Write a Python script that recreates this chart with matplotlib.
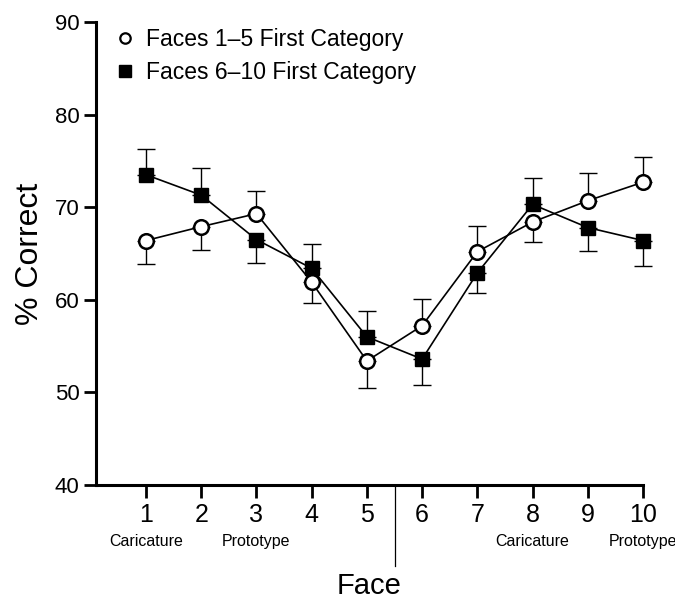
import matplotlib
matplotlib.use("Agg")
import matplotlib.pyplot as plt
from matplotlib.lines import Line2D
import matplotlib.transforms as mtransforms

plt.rcParams['font.family'] = ['Liberation Sans', 'DejaVu Sans']

faces = [1, 2, 3, 4, 5, 6, 7, 8, 9, 10]
tick_labels = ['1', '2', '3', '4', '5', '6', '7', '8', '9', '10']

# Faces 1-5 First Category (open circles)
circ_mean = [66.4, 67.9, 69.3, 61.9, 53.4, 57.2, 65.2, 68.4, 70.7, 72.7]
circ_err_lo = [2.5, 2.5, 0, 2.2, 2.9, 0, 0, 2.2, 0, 0]
circ_err_hi = [0, 0, 2.5, 0, 0, 2.9, 2.8, 0, 3.0, 2.7]

# Faces 6-10 First Category (filled squares)
sq_mean = [73.5, 71.3, 66.5, 63.4, 56.0, 53.6, 62.9, 70.3, 67.8, 66.4]
sq_err_lo = [0, 0, 2.5, 0, 0, 2.8, 2.2, 0, 2.5, 2.8]
sq_err_hi = [2.8, 2.9, 0, 2.6, 2.8, 0, 0, 2.9, 0, 0]

series_labels = ['Faces 1\u20135 First Category', 'Faces 6\u201310 First Category']

sub_labels = [(1, 'Caricature'), (3, 'Prototype'), (8, 'Caricature'), (10, 'Prototype')]

fig = plt.figure(figsize=(6.75, 5.99), dpi=100)
ax = fig.add_axes([0.1422, 0.1903, 0.8104, 0.773])

lw = 1.2
ax.errorbar(faces, sq_mean, yerr=[sq_err_lo, sq_err_hi], fmt='none', ecolor='black',
            elinewidth=1.0, capsize=6.5, capthick=1.0, clip_on=False, zorder=2)
ax.errorbar(faces, circ_mean, yerr=[circ_err_lo, circ_err_hi], fmt='none', ecolor='black',
            elinewidth=1.0, capsize=6.5, capthick=1.0, clip_on=False, zorder=2)
ax.plot(faces, sq_mean, color='black', lw=lw, marker='s', ms=9.5, mfc='black',
        mec='black', clip_on=False, zorder=3)
ax.plot(faces, circ_mean, color='black', lw=lw, marker='o', ms=10.5, mfc='white',
        mec='black', mew=1.8, clip_on=False, zorder=4)

ax.set_xlim(0.094, 10)
ax.set_ylim(40, 90)
ax.set_yticks([40, 50, 60, 70, 80, 90])
ax.set_xticks(faces)
ax.set_xticklabels(tick_labels, fontsize=18)
ax.tick_params(axis='y', labelsize=16, length=9, width=2.0, direction='out', pad=3)
ax.tick_params(axis='x', length=9, width=2.0, direction='out', pad=4)

for s in ['top', 'right']:
    ax.spines[s].set_visible(False)
for s in ['left', 'bottom']:
    ax.spines[s].set_linewidth(2.2)

# vertical divider between 5 and 6
trans = mtransforms.blended_transform_factory(ax.transData, ax.transAxes)
ax.plot([5.5, 5.5], [0, -0.175], transform=trans, color='black', lw=0.9, clip_on=False)

for x, t in sub_labels:
    ax.text(x, -0.123, t, transform=trans, ha='center', va='center', fontsize=11.5)

ax.set_xlabel('Face', fontsize=21)
ax.xaxis.set_label_coords(0.5, -0.236, transform=ax.transAxes)
ax.xaxis.label.set_va('baseline')
ax.set_ylabel('% Correct', fontsize=23)
ax.yaxis.set_label_coords(-0.094, 0.5, transform=ax.transAxes)

handles = [Line2D([], [], ls='none', marker='o', ms=7.5, mfc='white', mec='black', mew=1.6),
           Line2D([], [], ls='none', marker='s', ms=8.5, mfc='black', mec='black')]
ax.legend(handles, series_labels, loc='upper left', bbox_to_anchor=(0.02, 1.006),
          frameon=False, fontsize=16.5, handlelength=0.8, handletextpad=0.5,
          labelspacing=0.42, borderaxespad=0.0)

fig.savefig('out.png', dpi=100)
